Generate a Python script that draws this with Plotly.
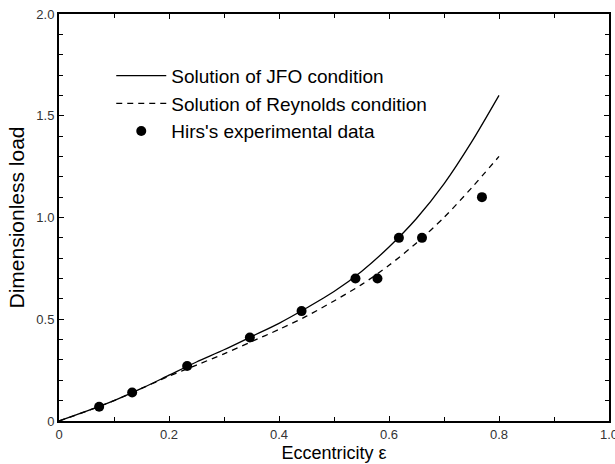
import plotly.graph_objects as go

# Curve samples
ecc = [0.0, 0.05, 0.10, 0.15, 0.20, 0.25, 0.30, 0.35, 0.40, 0.45, 0.50, 0.55, 0.60, 0.65, 0.70, 0.75, 0.80]
jfo_load = [0.0, 0.048, 0.10, 0.16, 0.225, 0.29, 0.35, 0.415, 0.48, 0.555, 0.636, 0.735, 0.855, 0.995, 1.165, 1.37, 1.60]
rey_load = [0.0, 0.048, 0.10, 0.16, 0.22, 0.275, 0.33, 0.39, 0.45, 0.515, 0.59, 0.67, 0.765, 0.875, 1.00, 1.145, 1.30]

# Hirs's experimental data
exp_ecc = [0.073, 0.133, 0.233, 0.347, 0.441, 0.539, 0.579, 0.618, 0.660, 0.769]
exp_load = [0.07, 0.14, 0.27, 0.41, 0.54, 0.70, 0.70, 0.90, 0.90, 1.10]

x_ticks = [0, 0.2, 0.4, 0.6, 0.8, 1.0]
x_tick_text = ["0", "0.2", "0.4", "0.6", "0.8", "1.0"]
y_ticks = [0, 0.5, 1.0, 1.5, 2.0]
y_tick_text = ["0", "0.5", "1.0", "1.5", "2.0"]

FONT = "Liberation Sans, Arial, sans-serif"

fig = go.Figure()
fig.add_trace(go.Scatter(x=ecc, y=jfo_load, mode="lines", name="Solution of JFO condition",
                         line=dict(color="black", width=1.3, shape="spline", smoothing=0.8)))
fig.add_trace(go.Scatter(x=ecc, y=rey_load, mode="lines", name="Solution of Reynolds condition",
                         line=dict(color="black", width=1.3, dash="6px,5px", shape="spline", smoothing=0.8)))
fig.add_trace(go.Scatter(x=exp_ecc, y=exp_load, mode="markers", name="Hirs's experimental data",
                         marker=dict(color="black", size=10)))

axis_common = dict(showline=True, linecolor="black", linewidth=2, mirror="ticks",
                   ticks="inside", ticklen=5, tickwidth=1, tickcolor="black",
                   showgrid=False, zeroline=False, ticklabeloverflow="allow",
                   automargin=False,
                   tickfont=dict(family=FONT, size=13, color="#333"))
minor = dict(dtick=0.1, tick0=0, ticks="inside", ticklen=4, tickcolor="black", showgrid=False)

fig.update_xaxes(range=[0, 1.0], tickvals=x_ticks, ticktext=x_tick_text,
                 title=dict(text="Eccentricity ε", font=dict(family=FONT, size=18, color="black"), standoff=6),
                 minor=minor, **axis_common)
fig.update_yaxes(range=[0, 2.0], tickvals=y_ticks, ticktext=y_tick_text,
                 title=dict(text="Dimensionless load", font=dict(family=FONT, size=21, color="black"), standoff=6),
                 minor=minor, **axis_common)

fig.update_layout(
    width=615, height=464,
    margin=dict(l=59, r=6, t=14, b=43),
    plot_bgcolor="white", paper_bgcolor="white",
    legend=dict(x=0.095, y=0.895, xanchor="left", yanchor="top",
                font=dict(family=FONT, size=19, color="black"),
                bgcolor="rgba(0,0,0,0)", tracegroupgap=0, itemwidth=50),
    showlegend=True,
)

fig.write_html("out.html")
